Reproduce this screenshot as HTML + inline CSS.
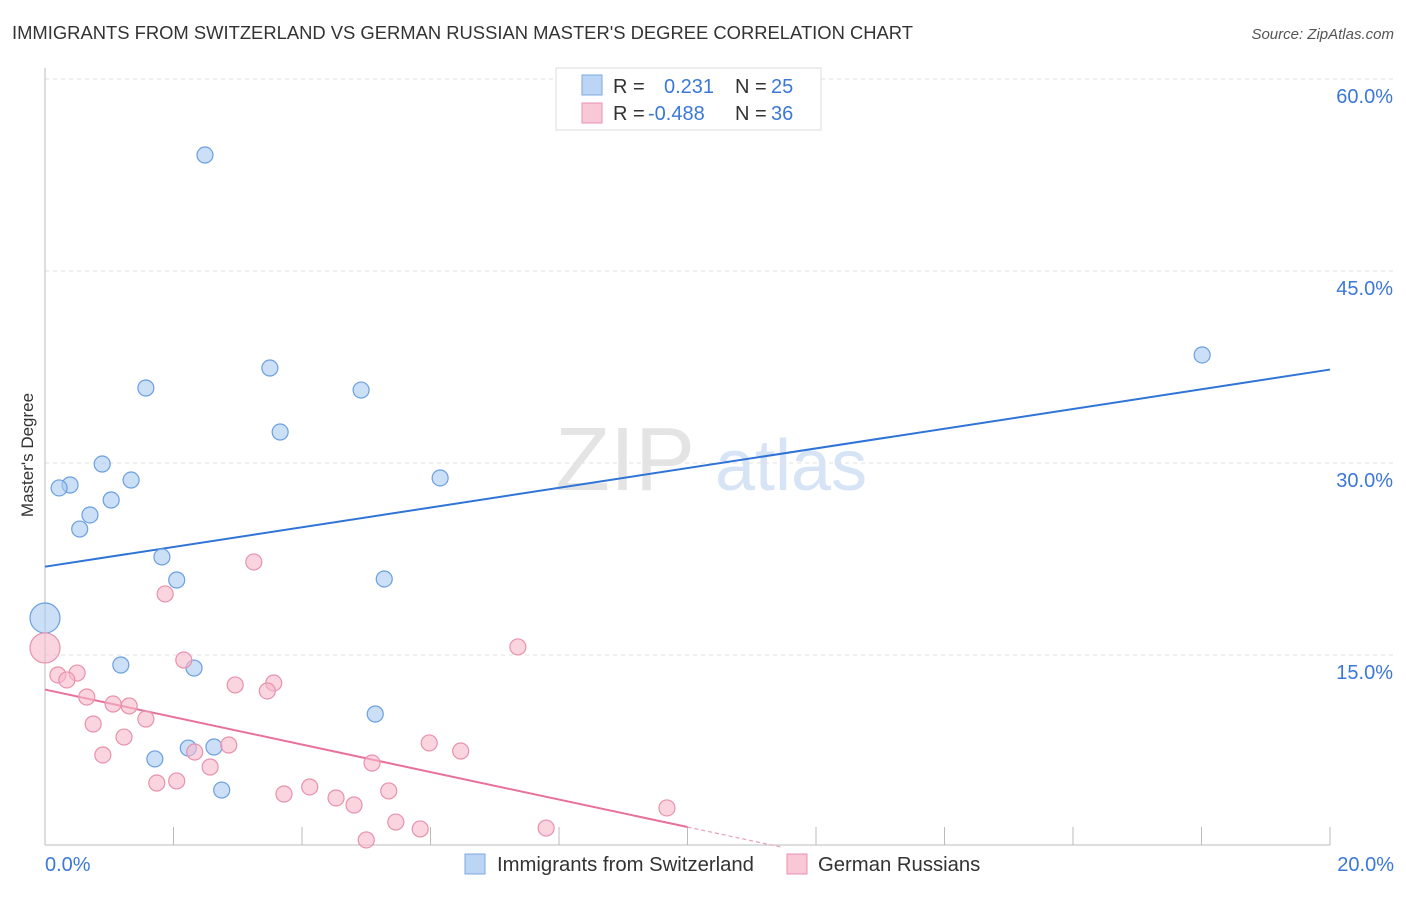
<!DOCTYPE html>
<html><head><meta charset="utf-8"><style>
body{margin:0;background:#fff;font-family:"Liberation Sans",sans-serif}
svg text{font-family:"Liberation Sans",sans-serif}
</style></head><body>
<svg id="chart" width="1406" height="892">
<text x="12" y="39" font-size="18.4" fill="#333">IMMIGRANTS FROM SWITZERLAND VS GERMAN RUSSIAN MASTER'S DEGREE CORRELATION CHART</text>
<text x="1394" y="39" font-size="15" fill="#555" font-style="italic" text-anchor="end">Source: ZipAtlas.com</text>
<text transform="translate(33,455) rotate(-90)" font-size="17" fill="#333" text-anchor="middle">Master's Degree</text>
<g><text x="555" y="490" font-size="90" fill="#e4e4e4" font-family="Liberation Serif">ZIP</text><text x="715" y="490" font-size="72" fill="#d6e4f5">atlas</text></g>
<g id="grid"></g><g id="lines"></g><g id="pts"></g>
<g>
<rect x="556" y="68" width="265" height="62" fill="#fff" stroke="#ddd"/>
<rect x="582" y="75" width="20" height="20" fill="#bcd5f5" stroke="#7aa8e0"/>
<text x="613" y="93" font-size="20" fill="#333">R = </text><text x="664" y="93" font-size="20" fill="#3b78d8">0.231</text>
<text x="735" y="93" font-size="20" fill="#333">N = </text><text x="771" y="93" font-size="20" fill="#3b78d8">25</text>
<rect x="582" y="103" width="20" height="20" fill="#f8c8d6" stroke="#e891ad"/>
<text x="613" y="120" font-size="20" fill="#333">R = </text><text x="648" y="120" font-size="20" fill="#3b78d8">-0.488</text>
<text x="735" y="120" font-size="20" fill="#333">N = </text><text x="771" y="120" font-size="20" fill="#3b78d8">36</text>
</g>
<g>
<rect x="465" y="854" width="20" height="20" fill="#bcd5f5" stroke="#7aa8e0"/>
<text x="497" y="871" font-size="20.3" fill="#333">Immigrants from Switzerland</text>
<rect x="787" y="854" width="20" height="20" fill="#f8c8d6" stroke="#e891ad"/>
<text x="818" y="871" font-size="20.3" fill="#333">German Russians</text>
</g>
</svg>
<script>
const xTicks=[0,2,4,6,8,10,12,14,16,18,20];
const yTicks=[15,30,45,60];
const yTickLabels=["15.0%","30.0%","45.0%","60.0%"];
const blueX=[2.49,3.50,1.57,4.92,3.66,0.89,6.15,1.34,0.39,0.22,1.03,0.70,0.54,1.82,2.05,5.28,0.0,1.18,2.32,5.14,1.71,2.23,2.63,2.75,18.01];
const blueY=[54.06,37.42,35.86,35.70,32.42,29.92,28.83,28.67,28.28,28.05,27.11,25.94,24.84,22.66,20.86,20.94,17.89,14.22,13.98,10.39,6.88,7.73,7.81,4.45,38.44];
const pinkX=[0,3.25,1.87,7.36,2.16,0.20,0.50,0.34,3.56,2.96,3.46,0.65,1.06,1.31,1.57,0.75,1.23,2.86,5.98,6.47,0.90,2.33,5.09,2.57,1.74,2.05,4.12,5.35,3.72,4.53,4.81,5.46,5.84,7.80,9.68,5.0];
const pinkY=[15.55,22.27,19.77,15.63,14.61,13.44,13.59,13.05,12.81,12.66,12.19,11.72,11.17,11.02,10.0,9.61,8.59,7.97,8.13,7.5,7.19,7.42,6.56,6.25,5.0,5.16,4.69,4.38,4.14,3.83,3.28,1.95,1.41,1.48,3.05,0.55];
const blueTrend=[21.9,37.3];
const pinkTrend=[12.3,1.56];
const NS="http://www.w3.org/2000/svg";
const sx=v=>45+v*64.25, sy=v=>847-v*12.8;
function mk(t,a,p){const e=document.createElementNS(NS,t);for(const k in a)e.setAttribute(k,a[k]);p.appendChild(e);return e;}
const g=document.getElementById('grid');
yTicks.forEach((t,i)=>{
 const l=mk('line',{x1:45,x2:1394,y1:sy(t),y2:sy(t),stroke:'#e2e2e2','stroke-dasharray':'4,4'},g);
 
 
 const tx=mk('text',{x:1393,y:sy(t)+24,'font-size':20,fill:'#3b78d8','text-anchor':'end'},g);tx.textContent=yTickLabels[i];
 
 
});
mk('line',{x1:45,x2:45,y1:68,y2:845,stroke:'#bbb'},g);
mk('line',{x1:45,x2:1330,y1:845,y2:845,stroke:'#bbb'},g);
xTicks.forEach(t=>{const l=mk('line',{x1:sx(t),x2:sx(t),y1:827,y2:845,stroke:'#bbb'},g);
 
 });
let t0=mk('text',{x:45,y:871,'font-size':20,fill:'#3b78d8'},g);t0.textContent="0.0%";


let t1=mk('text',{x:1394,y:871,'font-size':20,fill:'#3b78d8','text-anchor':'end'},g);t1.textContent="20.0%";


const P=document.getElementById('pts');
function dots(X,Y,fill,stroke,name){X.forEach((x,i)=>{const r=(x===0)?15:8;
 const c=mk('circle',{cx:sx(x),cy:sy(Y[i]),r:r,fill:fill,'fill-opacity':0.6,stroke:stroke,'stroke-width':1.2},P);
 
 });}
dots(blueX,blueY,'#a9c9f2','#6a9fe0','swiss-point');
dots(pinkX,pinkY,'#f7b9cc','#e891ad','german-russian-point');
const L=document.getElementById('lines');
const bl=mk('line',{x1:sx(0),y1:sy(blueTrend[0]),x2:sx(20),y2:sy(blueTrend[1]),stroke:'#2f74d6','stroke-width':2},L);


const pl=mk('line',{x1:sx(0),y1:sy(pinkTrend[0]),x2:sx(10),y2:sy(pinkTrend[1]),stroke:'#e8719a','stroke-width':2},L);


const slope=(pinkTrend[1]-pinkTrend[0])/10;const xe=-pinkTrend[0]/slope;
const pd=mk('line',{x1:sx(10),y1:sy(pinkTrend[1]),x2:sx(xe),y2:sy(0),stroke:'#e8a0b8','stroke-width':1.2,'stroke-dasharray':'4,3'},L);


</script>
</body></html>
